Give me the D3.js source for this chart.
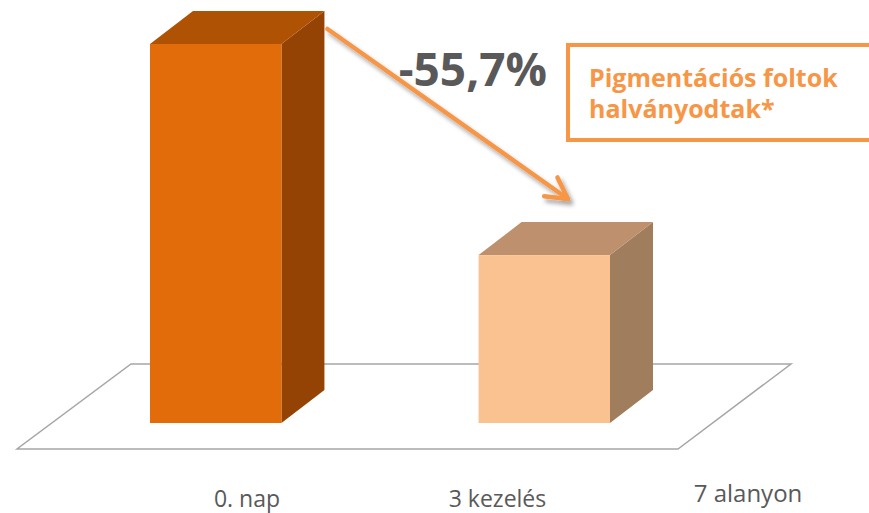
<!DOCTYPE html>
<html>
<head>
<meta charset="utf-8">
<script src="https://cdn.jsdelivr.net/npm/d3@7"></script>
<style>
  html, body { margin: 0; padding: 0; background: #fff; }
  svg { display: block; }
</style>
</head>
<body>
<svg id="chart" width="869" height="513"></svg>
<script>
// chart data
const categories = ["0. nap", "3 kezelés"];
const values = [100, 44.3];
const axisLabels = ["0. nap", "3 kezelés", "7 alanyon"];
const changeLabel = "-55,7%";
const noteLines = ["Pigmentációs foltok", "halványodtak*"];

const frontColors = ["#E36C0A", "#FAC290"];
const topColors = ["#B05204", "#BE906D"];
const sideColors = ["#944304", "#A07D5C"];

const width = 869, height = 513;
const depthX = 43, depthY = -33;

const svg = d3.select("#chart");

// drop shadow for the arrow
const defs = svg.append("defs");
defs.append("filter")
    .attr("id", "shadow")
    .attr("x", "-20%").attr("y", "-20%")
    .attr("width", "140%").attr("height", "140%")
    .append("feDropShadow")
    .attr("dx", 3).attr("dy", 4)
    .attr("stdDeviation", 2)
    .attr("flood-color", "#000")
    .attr("flood-opacity", 0.35);

const xScale = d3.scaleBand()
    .domain(categories)
    .range([150, 610])
    .paddingInner(0.6)
    .paddingOuter(0);

const yScale = d3.scaleLinear()
    .domain([0, 100])
    .range([423, 44]);

// floor plane
svg.append("path")
    .attr("d", `M17,449 L678,449 L791,364 L131,364 Z`)
    .attr("fill", "none")
    .attr("stroke", "#A6A6A6")
    .attr("stroke-width", 1.5);

// 3d bars
const bars = svg.selectAll(".bar")
    .data(values)
    .enter().append("g")
    .attr("class", "bar");

bars.each(function(d, i) {
    const g = d3.select(this);
    const x0 = xScale(categories[i]);
    const x1 = x0 + xScale.bandwidth();
    const yTop = yScale(d);
    const yBot = yScale(0);

    // side face
    g.append("path")
        .attr("d", `M${x1},${yTop} L${x1 + depthX},${yTop + depthY} L${x1 + depthX},${yBot + depthY} L${x1},${yBot} Z`)
        .attr("fill", sideColors[i]);

    // top face
    g.append("path")
        .attr("d", `M${x0},${yTop} L${x0 + depthX},${yTop + depthY} L${x1 + depthX},${yTop + depthY} L${x1},${yTop} Z`)
        .attr("fill", topColors[i]);

    // front face
    g.append("rect")
        .attr("x", x0)
        .attr("y", yTop)
        .attr("width", x1 - x0)
        .attr("height", yBot - yTop)
        .attr("fill", frontColors[i]);
});

// category labels
const labelScale = d3.scalePoint()
    .domain(axisLabels)
    .range([247, 748]);

svg.selectAll(".cat-label")
    .data(axisLabels)
    .enter().append("text")
    .attr("class", "cat-label")
    .attr("x", d => labelScale(d))
    .attr("y", (d, i) => i === 2 ? 502 : 507)
    .attr("text-anchor", "middle")
    .attr("font-family", "'Open Sans', sans-serif")
    .attr("font-size", (d, i) => i === 2 ? 24 : 23)
    .attr("fill", "#595959")
    .text(d => d);

// change value
svg.append("text")
    .attr("x", 547)
    .attr("y", 86)
    .attr("text-anchor", "end")
    .attr("font-family", "'Open Sans', sans-serif")
    .attr("font-weight", "bold")
    .attr("font-size", 46)
    .attr("fill", "#595959")
    .text(changeLabel);

// arrow from first bar top to second bar
const ax1 = xScale(categories[0]) + xScale.bandwidth() + depthX + 3;
const ay1 = yScale(values[0]) + depthY + 18;
const ax2 = 568, ay2 = 199;
const ang = Math.atan2(ay2 - ay1, ax2 - ax1);
const headLen = 24, headAng = 0.5;

const arrow = svg.append("g")
    .attr("filter", "url(#shadow)")
    .attr("stroke", "#F79646")
    .attr("stroke-width", 4.5)
    .attr("stroke-linecap", "round")
    .attr("stroke-linejoin", "round")
    .attr("fill", "none");

arrow.append("line")
    .attr("x1", ax1).attr("y1", ay1)
    .attr("x2", ax2).attr("y2", ay2);

arrow.append("path")
    .attr("d", `M${ax2 - headLen * Math.cos(ang - headAng)},${ay2 - headLen * Math.sin(ang - headAng)}
                L${ax2},${ay2}
                L${ax2 - headLen * Math.cos(ang + headAng)},${ay2 - headLen * Math.sin(ang + headAng)}`);

// note box
svg.append("rect")
    .attr("x", 568)
    .attr("y", 45)
    .attr("width", 320)
    .attr("height", 95)
    .attr("fill", "#fff")
    .attr("stroke", "#F79646")
    .attr("stroke-width", 4);

svg.selectAll(".note")
    .data(noteLines)
    .enter().append("text")
    .attr("class", "note")
    .attr("x", 589)
    .attr("y", (d, i) => 87 + i * 31)
    .attr("font-family", "'Open Sans', sans-serif")
    .attr("font-weight", "bold")
    .attr("font-size", 25)
    .attr("fill", "#F79646")
    .text(d => d);
</script>
</body>
</html>
